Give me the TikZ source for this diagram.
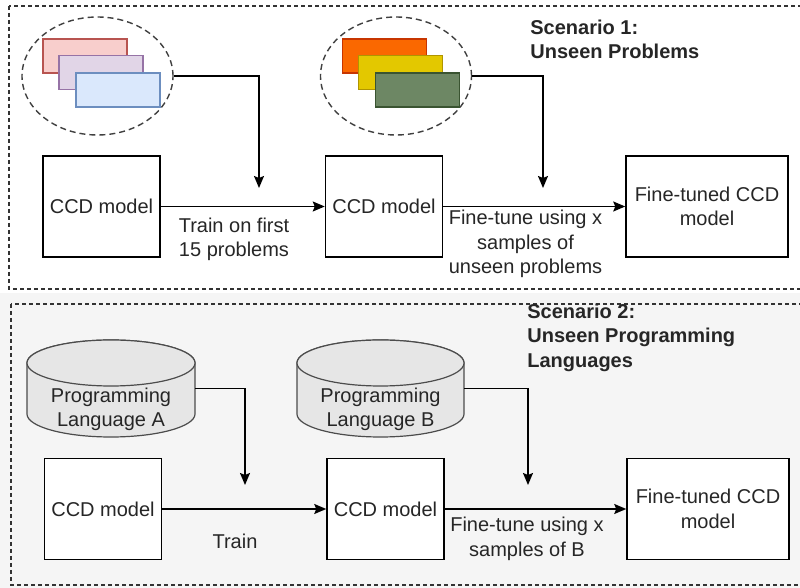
\documentclass[tikz,border=0pt]{standalone}
\usepackage{fontspec}
\setmainfont{Liberation Sans}
\usetikzlibrary{arrows.meta,shapes.geometric}

\definecolor{pinkF}{HTML}{F8CECC}\definecolor{pinkD}{HTML}{B85450}
\definecolor{lilacF}{HTML}{E1D5E7}\definecolor{lilacD}{HTML}{9673A6}
\definecolor{skyF}{HTML}{DAE8FC}\definecolor{skyD}{HTML}{6C8EBF}
\definecolor{orangeF}{HTML}{FA6800}\definecolor{orangeD}{HTML}{C73500}
\definecolor{yellowF}{HTML}{E3C800}\definecolor{yellowD}{HTML}{B09500}
\definecolor{greenF}{HTML}{6D8764}\definecolor{greenD}{HTML}{3A5431}
\definecolor{panelbg}{HTML}{F5F5F5}
\definecolor{dbF}{HTML}{E6E6E6}

\begin{document}
\begin{tikzpicture}[x=0.5pt,y=-0.5pt,
    font=\fontsize{10}{12.25}\selectfont,color=black!85,
    model/.style={draw=black,line width=0.75pt,fill=white,minimum width=58.5pt,
      minimum height=50.5pt,inner sep=0,align=center},
    tuned/.style={model,minimum width=81pt},
    pile/.style={draw=black!75,ellipse,dash pattern=on 3pt off 2pt,line width=0.7pt,
      minimum width=75.5pt,minimum height=59pt,inner sep=0},
    card/.style={minimum width=42pt,minimum height=17pt,inner sep=0,line width=0.6pt},
    flow/.style={-{Stealth[length=6pt,width=5pt,inset=1pt]},line width=0.75pt,draw=black},
    lbl/.style={align=center,inner sep=0},
    heading/.style={align=left,inner sep=0,anchor=west,font=\fontsize{10}{12.25}\selectfont\bfseries},
    panel/.style={draw=black!80,dash pattern=on 2pt off 1.5pt,line width=0.7pt},
    db/.style={draw=black!70,fill=dbF,line width=0.6pt}]

  \useasboundingbox (0,0) rectangle (800,588);
  \clip (0,0) rectangle (800,588);
  \fill[white] (0,0) rectangle (800,293);
  \fill[panelbg] (0,293) rectangle (800,588);
  \draw[panel] (9,6) rectangle (812,289);
  \draw[panel] (11,304) rectangle (812,585);

  % scenario 1
  \node[heading] (title1) at (530,39.5) {Scenario 1:\\Unseen Problems};
  \node[pile] (ell1) at (97.5,76) {};
  \node[pile] (ell2) at (396,76) {};
  \foreach \x/\y/\fc/\dc [count=\k] in {85/56/pinkF/pinkD,101/72.5/lilacF/lilacD,118/90/skyF/skyD}
    \node[card,fill=\fc,draw=\dc] (p\k) at (\x,\y) {};
  \foreach \x/\y/\fc/\dc [count=\k] in {384.5/56/orangeF/orangeD,400.5/72.5/yellowF/yellowD,417.5/90/greenF/greenD}
    \node[card,fill=\fc,draw=\dc] (q\k) at (\x,\y) {};

  \node[model] (ccd1) at (101.5,206.5) {CCD model};
  \node[model] (ccd2) at (384,206.5) {CCD model};
  \node[tuned] (fine1) at (707,206.5) {Fine-tuned CCD\\model};
  \coordinate (in1) at (259,188);
  \coordinate (in2) at (543,188);

  \draw[flow] (ell1.east) -| (in1);
  \draw[flow] (ell2.east) -| (in2);
  \draw[flow] (ccd1) -- (ccd2);
  \draw[flow] (ccd2) -- (fine1);
  \node[lbl] (train1) at (234,239.5) {Train on first\\15 problems};
  \node[lbl] (tune1) at (525.5,244) {Fine-tune using x\\samples of\\unseen problems};

  % scenario 2
  \node[heading] (title2) at (527,337.5) {Scenario 2:\\Unseen Programming\\Languages};
  \foreach \n/\x/\w in {cylA/111/84pt,cylB/380.5/83.5pt} {
    \node[minimum width=\w,minimum height=48.5pt,inner sep=0,outer sep=0] (\n) at (\x,388.5) {};
    \draw[db] ([yshift=-11.5pt]\n.north west) -- ([yshift=11.5pt]\n.south west)
      arc[start angle=180,end angle=360,x radius=\w/2,y radius=11.5pt]
      -- ([yshift=-11.5pt]\n.north east)
      arc[start angle=0,end angle=180,x radius=\w/2,y radius=11.5pt] -- cycle;
    \draw[db] ([yshift=-11.5pt]\n.north) ellipse [x radius=\w/2,y radius=11.5pt];
  }
  \node[lbl] (langA) at ([yshift=-10.5pt]cylA.center) {Programming\\Language A};
  \node[lbl] (langB) at ([yshift=-10.5pt]cylB.center) {Programming\\Language B};

  \node[model] (ccd3) at (103,509) {CCD model};
  \node[model] (ccd4) at (385.5,509) {CCD model};
  \node[tuned] (fine2) at (708,509) {Fine-tuned CCD\\model};
  \coordinate (in3) at (245,485);
  \coordinate (in4) at (528,485);

  \draw[flow] (cylA.east) -| (in3);
  \draw[flow] (cylB.east) -| (in4);
  \draw[flow] (ccd3) -- (ccd4);
  \draw[flow] (ccd4) -- (fine2);
  \node[lbl] (train2) at (235,541) {Train};
  \node[lbl] (tune2) at (527,539) {Fine-tune using x\\samples of B};
\end{tikzpicture}
\end{document}
